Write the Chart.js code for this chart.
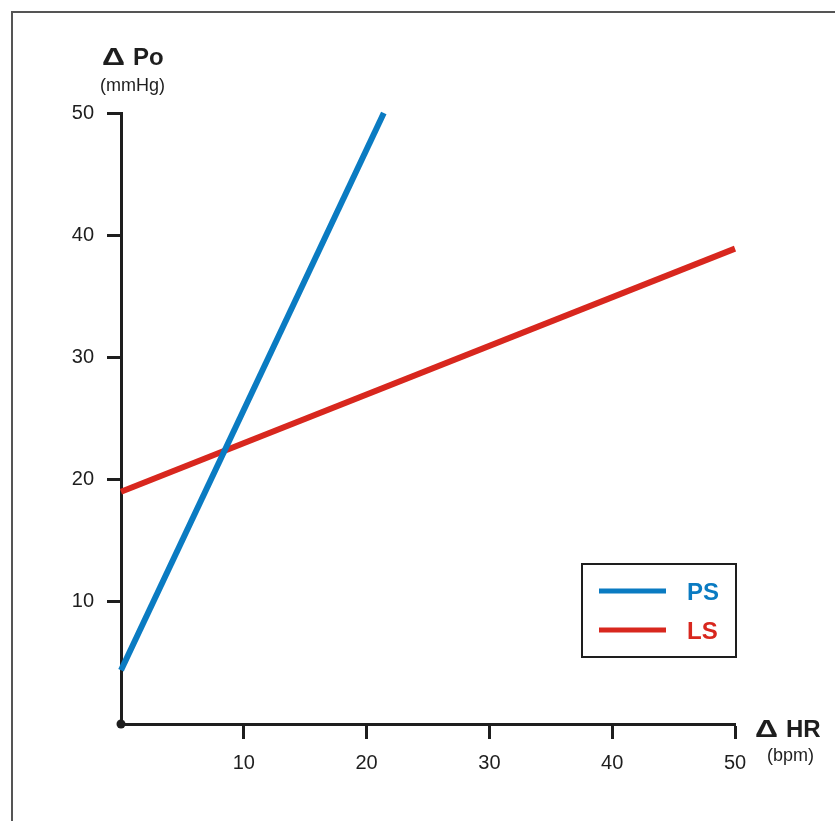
<!DOCTYPE html>
<html>
<head>
<meta charset="utf-8">
<script src="https://cdn.jsdelivr.net/npm/chart.js@4"></script>
<style>
  html, body { margin: 0; padding: 0; background: #fff; overflow: hidden; }
  #frame { position: absolute; left: 11px; top: 11px; width: 900px; height: 900px;
           border-left: 2px solid #555; border-top: 2px solid #555; }
  #wrap { position: absolute; left: 0; top: 0; width: 835px; height: 821px; }
</style>
</head>
<body>
<div id="frame"></div>
<div id="wrap"><canvas id="chart" width="835" height="821"></canvas></div>
<script>
// values
const seriesNames = ["PS", "LS"];
const seriesColors = ["#0a7bc2", "#d8271e"];
const psHR = [0, 21.4];
const psPo = [4.4, 50];
const lsHR = [0, 50];
const lsPo = [19, 38.9];
const hrTicks = [10, 20, 30, 40, 50];
const poTicks = [10, 20, 30, 40, 50];

const FONT = "'Liberation Sans', Arial, sans-serif";
const INK = "#1e1e1e";

function toPoints(xs, ys) {
  return xs.map((x, i) => ({ x: x, y: ys[i] }));
}

// bold title with a wide delta in front, like the original artwork
function deltaTitle(ctx, text, x, y) {
  ctx.font = "bold 24px " + FONT;
  const m = ctx.measureText("Δ");
  const h = m.actualBoundingBoxAscent || 17;
  ctx.save();
  ctx.translate(x, y);
  ctx.scale(23 / m.width, 17.5 / h);
  ctx.fillText("Δ", 0, 0);
  ctx.restore();
  ctx.fillText(text, x + 31, y);
}

// axis titles, origin dot, boxed legend
const extras = {
  id: "extras",
  afterDraw(chart) {
    const { ctx, chartArea: a, scales } = chart;
    ctx.save();
    ctx.fillStyle = INK;
    ctx.textAlign = "left";
    ctx.textBaseline = "alphabetic";

    deltaTitle(ctx, "Po", a.left - 19, a.top - 48);
    deltaTitle(ctx, "HR", a.right + 20, a.bottom + 13);
    ctx.font = "18px " + FONT;
    ctx.fillText("(mmHg)", a.left - 21, a.top - 22);
    ctx.fillText("(bpm)", a.right + 32, a.bottom + 37);

    // dot at the origin
    ctx.beginPath();
    ctx.arc(scales.x.getPixelForValue(0), scales.y.getPixelForValue(0), 4.5, 0, Math.PI * 2);
    ctx.fill();

    // legend box
    const bx = a.right - 153, by = a.bottom - 160;
    ctx.strokeStyle = INK;
    ctx.lineWidth = 2;
    ctx.strokeRect(bx, by, 154, 93);
    chart.data.datasets.forEach((ds, i) => {
      const ly = by + 27 + i * 39;
      ctx.strokeStyle = ds.borderColor;
      ctx.lineWidth = 5;
      ctx.beginPath();
      ctx.moveTo(bx + 17, ly);
      ctx.lineTo(bx + 84, ly);
      ctx.stroke();
      ctx.fillStyle = ds.borderColor;
      ctx.font = "bold 24px " + FONT;
      ctx.fillText(ds.label, bx + 105, ly + 9);
    });
    ctx.restore();
  }
};

// scale boxes get a fixed size so the plot area lands where the picture has it
function axis(ticks, isX, size) {
  return {
    type: "linear",
    min: 0,
    max: 50,
    afterFit(s) {
      if (isX) s.height = size; else s.width = size;
    },
    afterBuildTicks(s) {
      s.ticks = ticks.map(v => ({ value: v }));
    },
    grid: {
      drawOnChartArea: false,
      tickLength: isX ? 15 : 14,
      tickWidth: 3,
      tickColor: INK
    },
    border: { color: INK, width: 3 },
    ticks: {
      padding: isX ? 12 : 13,
      color: INK,
      autoSkip: false,
      maxRotation: 0,
      font: { family: FONT, size: 20 }
    }
  };
}

new Chart(document.getElementById("chart"), {
  type: "scatter",
  data: {
    datasets: [
      { label: seriesNames[0], data: toPoints(psHR, psPo) },
      { label: seriesNames[1], data: toPoints(lsHR, lsPo) }
    ].map((d, i) => Object.assign(d, {
      showLine: true,
      borderColor: seriesColors[i],
      backgroundColor: seriesColors[i],
      borderWidth: 6,
      borderCapStyle: "butt",
      pointRadius: 0,
      clip: false
    }))
  },
  options: {
    responsive: false,
    animation: false,
    devicePixelRatio: 1,
    layout: { padding: { left: 0, top: 113, right: 100, bottom: 0 } },
    plugins: { legend: { display: false }, tooltip: { enabled: false } },
    scales: { x: axis(hrTicks, true, 97), y: axis(poTicks, false, 121) }
  },
  plugins: [extras]
});
</script>
</body>
</html>
